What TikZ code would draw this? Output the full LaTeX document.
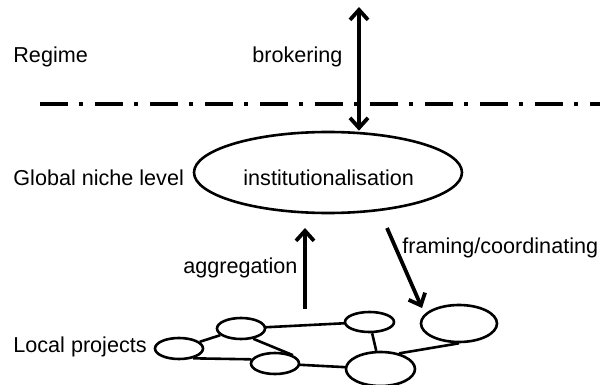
\documentclass[tikz,border=0pt]{standalone}
\usepackage{fontspec}
\setmainfont{Liberation Sans}
\usetikzlibrary{shapes.geometric,arrows.meta}
\begin{document}
\begin{tikzpicture}[x=0.5pt,y=-0.5pt,
  txt/.style={font=\fontsize{10.8}{13}\selectfont},
  lbl/.style={txt,anchor=base west,inner sep=0pt},
  blob/.style={draw,ellipse,line width=1.3pt,inner sep=0pt},
  link/.style={line width=1.3pt},
  barb/.tip={Straight Barb[length=5pt,width=9pt,line width=1.9pt]},
  flow/.style={line width=1.9pt,-barb},
  levelline/.style={line width=2.3pt,dash pattern=on 14pt off 5.5pt on 2pt off 6pt}]
\useasboundingbox (0,0) rectangle (600,385);

% level separator between regime and niche
\coordinate (sepL) at (40,104);
\coordinate (sepR) at (600,104);
\draw[levelline] (sepL) -- (sepR);

% level labels
\node[lbl] (regime) at (13,63) {Regime};
\node[lbl] (global) at (13,185) {Global niche level};
\node[lbl] (local)  at (13,352) {Local projects};

% global niche
\node[blob,minimum width=134pt,minimum height=40.5pt] (inst) at (328,172.5) {};
\node[lbl] (instlbl) at (243,185) {institutionalisation};

% brokering between regime and niche
\coordinate (btop) at (359,7);
\draw[flow,barb-barb] (btop) -- (btop |- inst.north);
\node[lbl] (brok) at (252,63) {brokering};

% aggregation upward
\coordinate (aggS) at (305,309);
\coordinate (aggE) at (305,228);
\draw[flow] (aggS) -- (aggE);
\node[lbl] (agg) at (183,273) {aggregation};

% framing downward
\coordinate (frS) at (387,228);
\coordinate (frE) at (422,308);
\draw[flow] (frS) -- (frE);
\node[lbl] (fram) at (402,253) {framing/coordinating};

% local project network
\node[blob,minimum width=24pt,minimum height=10.5pt] (p1) at (179,348.5) {};
\node[blob,minimum width=24pt,minimum height=10.5pt] (p2) at (241,328.5) {};
\node[blob,minimum width=24pt,minimum height=10.5pt] (p3) at (275,363.5) {};
\node[blob,minimum width=24.5pt,minimum height=10pt] (p4) at (369.5,322) {};
\node[blob,minimum width=34.5pt,minimum height=17pt] (p5) at (380.5,369) {};
\node[blob,minimum width=38pt,minimum height=18.5pt] (p6) at (459,323.5) {};

\draw[link] (p1) -- (p2);
\draw[link] (p1.-35) -- (p3.170);
\draw[link] (p2.-40) -- (p3.25);
\draw[link] (p2) -- (p4);
\draw[link] (p3) -- (p5);
\draw[link] (p4) -- (p5);
\draw[link] (p5.40) -- (p6.south);
\end{tikzpicture}
\end{document}
